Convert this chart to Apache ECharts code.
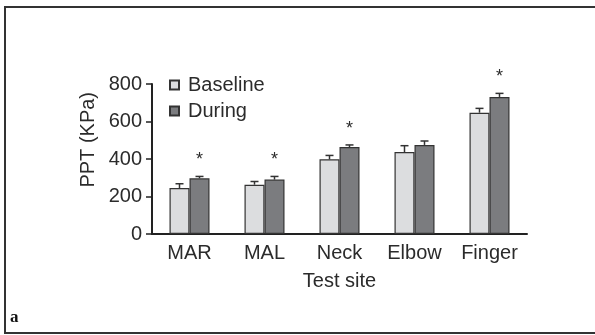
<!DOCTYPE html>
<html>
<head>
<meta charset="utf-8">
<script src="https://cdn.jsdelivr.net/npm/echarts@6/dist/echarts.min.js"></script>
<style>
  html, body { margin: 0; padding: 0; background: #fff; }
  #chart { width: 595px; height: 335px; }
</style>
</head>
<body>
<div id="chart"></div>
<script>
// test sites
var categories = ['MAR', 'MAL', 'Neck', 'Elbow', 'Finger'];
// PPT values (KPa)
var baseline = [245, 263, 398, 437, 647];
var baselineErr = [23, 17, 21, 34, 23];
var during = [297, 290, 464, 475, 731];
var duringErr = [10, 17, 11, 21, 19];
// asterisk above the During bar
var significant = [true, true, true, false, true];
var yTicks = [0, 200, 400, 600, 800];

var font = 'Liberation Sans';
var textColor = '#2b2b2b';
var barW = 20;

var chart = echarts.init(document.getElementById('chart'));

// error bar drawer, side = -1 baseline, +1 during
function errRender (vals, errs, side, stars) {
  return function (params, api) {
    var i = api.value(0);
    var base = api.coord([i, vals[i]]);
    var top = api.coord([i, vals[i] + errs[i]]);
    var x = base[0] + side * barW / 2;
    var children = [
      { type: 'line', shape: { x1: x, y1: base[1], x2: x, y2: top[1] }, style: { stroke: '#333', lineWidth: 1.5 } },
      { type: 'line', shape: { x1: x - 4, y1: top[1], x2: x + 4, y2: top[1] }, style: { stroke: '#333', lineWidth: 1.5 } }
    ];
    if (stars && stars[i]) {
      children.push({
        type: 'text',
        style: { x: x, y: top[1] - 16, text: '*', fill: textColor, font: '18px ' + font, textAlign: 'center', textVerticalAlign: 'middle' }
      });
    }
    return { type: 'group', children: children };
  };
}

var idx = categories.map(function (c, i) { return [i]; });

var option = {
  animation: false,
  backgroundColor: '#fff',
  textStyle: { fontFamily: font },
  grid: { left: 152, right: 68, top: 84, bottom: 101 },
  legend: {
    orient: 'vertical',
    left: 164,
    top: 70,
    icon: 'rect',
    itemWidth: 9,
    itemHeight: 9,
    itemGap: 6,
    textStyle: { fontSize: 20, color: textColor, fontFamily: font, padding: [0, 0, 0, 4] },
    data: ['Baseline', 'During']
  },
  xAxis: {
    type: 'category',
    data: categories,
    name: 'Test site',
    nameLocation: 'middle',
    nameGap: 37,
    nameTextStyle: { fontSize: 20, color: textColor },
    axisLine: { lineStyle: { color: '#222', width: 2 } },
    axisTick: { show: false },
    axisLabel: { fontSize: 20, color: textColor, margin: 9 }
  },
  yAxis: {
    type: 'value',
    min: 0,
    max: 800,
    interval: 200,
    splitLine: { show: false },
    axisLine: { show: true, lineStyle: { color: '#222', width: 2 } },
    axisTick: { show: true, length: 6, lineStyle: { color: '#222', width: 1.5 } },
    axisLabel: {
      fontSize: 20, color: textColor, margin: 10,
      formatter: function (v) { return yTicks.indexOf(v) >= 0 ? String(v) : ''; }
    }
  },
  graphic: [
    {
      type: 'text', left: 78, top: 92, rotation: Math.PI / 2,
      style: { text: 'PPT (KPa)', fill: textColor, font: '20px ' + font }
    },
    {
      type: 'text', left: 10, top: 309,
      style: { text: 'a', fill: '#111', font: 'bold 17px "Liberation Serif"' }
    },
    {
      type: 'polyline', silent: true,
      shape: { points: [[595, 7], [5, 7], [5, 333], [595, 333]] },
      style: { fill: 'none', stroke: '#333', lineWidth: 2 }
    }
  ],
  series: [
    {
      name: 'Baseline', type: 'bar', data: baseline, barWidth: barW, barGap: '0%',
      itemStyle: { color: '#dcdddf', borderColor: '#333', borderWidth: 1.2 }
    },
    {
      name: 'During', type: 'bar', data: during, barWidth: barW,
      itemStyle: { color: '#7b7c7f', borderColor: '#333', borderWidth: 1.2 }
    },
    { type: 'custom', data: idx, renderItem: errRender(baseline, baselineErr, -1, null), z: 5 },
    { type: 'custom', data: idx, renderItem: errRender(during, duringErr, 1, significant), z: 5 }
  ]
};

chart.setOption(option);
</script>
</body>
</html>
